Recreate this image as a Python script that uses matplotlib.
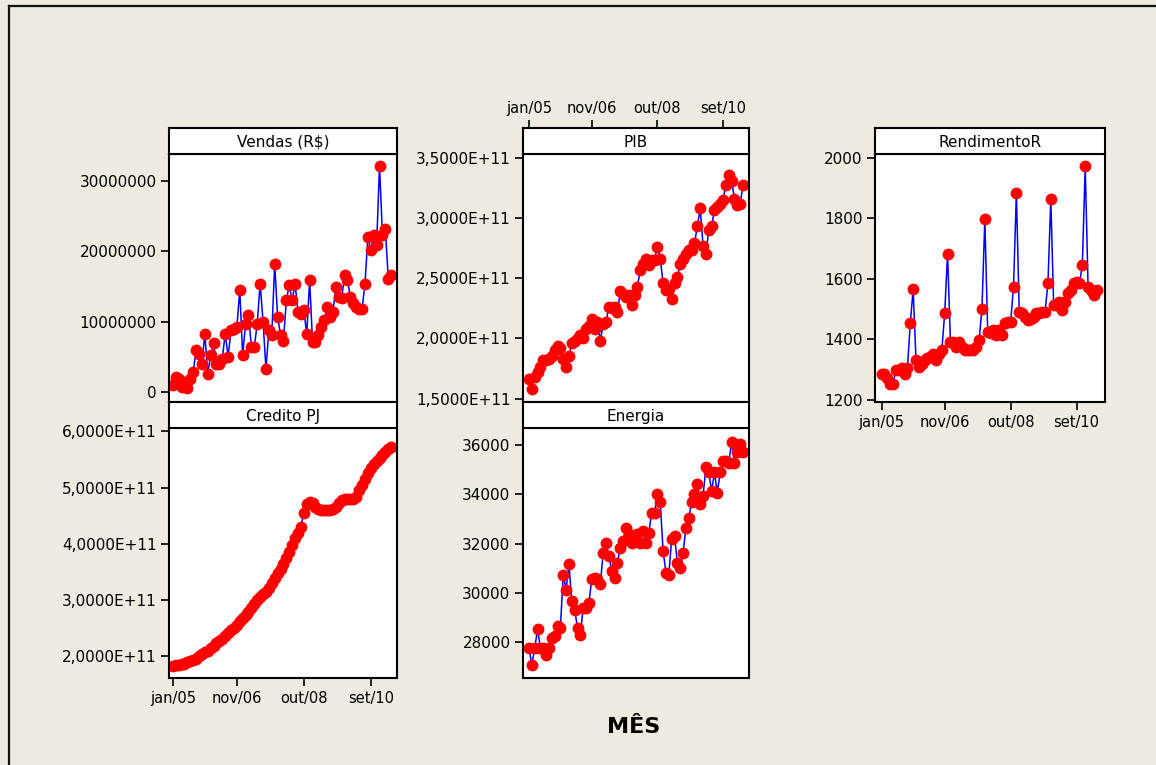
import numpy as np
import matplotlib
matplotlib.use('Agg')
import matplotlib.pyplot as plt
from matplotlib.lines import Line2D

# meses jan/05 .. abr/11 (indice da observacao)
meses = np.arange(76)
tick_pos = [0, 22, 45, 68]
tick_lab = ['jan/05', 'nov/06', 'out/08', 'set/10']

# Vendas (R$) em milhoes
vendas = np.array([
    1.0, 2.1, 1.9, 0.7, 1.2, 0.5, 1.9, 2.8, 5.9, 5.4,
    4.0, 8.3, 2.6, 5.2, 6.9, 4.0, 4.0, 4.7, 8.3, 5.0,
    8.8, 9.0, 9.2, 14.5, 5.2, 9.7, 10.9, 6.4, 6.4, 9.7,
    15.4, 10.0, 3.3, 8.8, 8.1, 18.2, 10.7, 8.1, 7.3, 13.0,
    15.2, 13.0, 15.4, 11.4, 11.1, 11.6, 8.3, 15.9, 7.1, 7.1,
    8.1, 9.2, 10.2, 12.1, 10.7, 11.4, 14.9, 13.5, 13.3, 16.6,
    15.9, 13.5, 12.6, 12.1, 11.8, 11.8, 15.4, 22.0, 20.1, 22.3,
    20.9, 32.1, 22.3, 23.2, 16.1, 16.6]) * 1e6

# Credito PJ em 1E+11
credito = np.array([
    1.83, 1.84, 1.85, 1.86, 1.87, 1.89, 1.91, 1.93, 1.96, 2.00,
    2.04, 2.07, 2.10, 2.14, 2.18, 2.23, 2.27, 2.31, 2.36, 2.41,
    2.47, 2.51, 2.56, 2.62, 2.68, 2.74, 2.79, 2.85, 2.93, 3.00,
    3.06, 3.10, 3.15, 3.22, 3.31, 3.40, 3.48, 3.56, 3.64, 3.74,
    3.86, 3.98, 4.10, 4.20, 4.30, 4.55, 4.70, 4.75, 4.72, 4.66,
    4.62, 4.60, 4.60, 4.60, 4.61, 4.62, 4.66, 4.72, 4.78, 4.80,
    4.80, 4.80, 4.80, 4.83, 4.95, 5.05, 5.15, 5.26, 5.35, 5.42,
    5.47, 5.52, 5.58, 5.63, 5.68, 5.72]) * 1e11

# PIB em 1E+11
pib = np.array([
    1.66, 1.58, 1.68, 1.72, 1.76, 1.82, 1.82, 1.83, 1.85, 1.90,
    1.94, 1.92, 1.83, 1.76, 1.85, 1.96, 1.98, 2.00, 2.03, 2.00,
    2.08, 2.10, 2.16, 2.08, 2.14, 1.98, 2.12, 2.14, 2.26, 2.25,
    2.26, 2.22, 2.39, 2.37, 2.34, 2.36, 2.28, 2.36, 2.43, 2.57,
    2.62, 2.66, 2.61, 2.65, 2.65, 2.76, 2.66, 2.46, 2.40, 2.41,
    2.33, 2.46, 2.51, 2.62, 2.66, 2.70, 2.73, 2.73, 2.79, 2.93,
    3.08, 2.77, 2.70, 2.90, 2.93, 3.07, 3.09, 3.12, 3.15, 3.27,
    3.36, 3.31, 3.16, 3.11, 3.12, 3.27]) * 1e11

energia = np.array([
    27770, 27090, 27770, 28520, 27770, 27770, 27500, 27770, 28180, 28240,
    28650, 28580, 30750, 30140, 31160, 29670, 29330, 28580, 28310, 29400,
    29400, 29600, 30550, 30620, 30550, 30350, 31630, 32040, 31500, 30890,
    30620, 31230, 31840, 32110, 32650, 32380, 32040, 32310, 32380, 32040,
    32520, 32040, 32450, 33260, 33260, 34010, 33670, 31700, 30820, 30750,
    32180, 32310, 31230, 31020, 31630, 32650, 33060, 33670, 34010, 34410,
    33600, 33940, 35090, 34890, 34140, 34890, 34070, 34890, 35360, 35360,
    35290, 36110, 35290, 35700, 36040, 35700])

rendimento = np.array([
    1286, 1286, 1270, 1253, 1253, 1297, 1297, 1303, 1286, 1303,
    1452, 1564, 1330, 1308, 1319, 1330, 1336, 1341, 1352, 1330,
    1352, 1363, 1485, 1683, 1391, 1391, 1374, 1391, 1374, 1363,
    1363, 1363, 1363, 1374, 1396, 1501, 1796, 1424, 1419, 1430,
    1413, 1430, 1413, 1452, 1457, 1457, 1573, 1882, 1490, 1485,
    1474, 1463, 1468, 1474, 1485, 1485, 1490, 1490, 1584, 1862,
    1512, 1512, 1523, 1496, 1523, 1551, 1562, 1584, 1590, 1584,
    1645, 1973, 1573, 1562, 1545, 1562])

vendas_ticks = [0, 10000000, 20000000, 30000000]
vendas_labels = ['0', '10000000', '20000000', '30000000']
credito_ticks = [2e11, 3e11, 4e11, 5e11, 6e11]
credito_labels = ['2,0000E+11', '3,0000E+11', '4,0000E+11', '5,0000E+11', '6,0000E+11']
pib_ticks = [1.5e11, 2.0e11, 2.5e11, 3.0e11, 3.5e11]
pib_labels = ['1,5000E+11', '2,0000E+11', '2,5000E+11', '3,0000E+11', '3,5000E+11']
energia_ticks = [28000, 30000, 32000, 34000, 36000]
energia_labels = ['28000', '30000', '32000', '34000', '36000']
rend_ticks = [1200, 1400, 1600, 1800, 2000]
rend_labels = ['1200', '1400', '1600', '1800', '2000']

W, H = 1156, 765
fundo = '#EEEAE0'
plt.rcParams['font.family'] = 'DejaVu Sans'

fig = plt.figure(figsize=(W / 100, H / 100), dpi=100, facecolor=fundo)


def caixa(x0, y0, w, h):
    # retangulo em pixels (origem no canto superior esquerdo)
    return [x0 / W, 1 - (y0 + h) / H, w / W, h / H]


def painel(x0, y0, w, h, titulo, y, xlim, ylim, yt, ylab, xbaixo=False, xtopo=False):
    ax = fig.add_axes(caixa(x0, y0, w, h))
    ax.plot(meses, y, '-o', color='#0000FF', lw=1.1, ms=7.5,
            mfc='#FF0000', mec='#FF0000')
    ax.set_xlim(xlim)
    ax.set_ylim(ylim)
    ax.set_yticks(yt)
    ax.set_yticklabels(ylab)
    ax.tick_params(axis='y', direction='out', length=6, width=1.2,
                   labelsize=11, pad=3)
    if xbaixo:
        ax.set_xticks(tick_pos)
        ax.set_xticklabels(tick_lab)
        ax.tick_params(axis='x', direction='out', length=6, width=1.2,
                       labelsize=10.5, pad=3)
    else:
        ax.set_xticks([])
    for s in ax.spines.values():
        s.set_linewidth(1.5)
    # faixa do titulo
    st = fig.add_axes(caixa(x0, y0 - 26, w, 26))
    st.set_facecolor('white')
    st.set_xlim(xlim)
    st.set_yticks([])
    for s in st.spines.values():
        s.set_linewidth(1.5)
    st.text(0.5, 0.45, titulo, transform=st.transAxes, ha='center',
            va='center', fontsize=11)
    if xtopo:
        st.set_xticks(tick_pos)
        st.set_xticklabels(tick_lab)
        st.tick_params(axis='x', direction='out', length=6, width=1.2,
                       labelsize=10.5, pad=3, top=True, labeltop=True,
                       bottom=False, labelbottom=False)
    else:
        st.set_xticks([])
    return ax


painel(169, 154, 228, 248, r'Vendas (R\$)', vendas, (-1.3, 77.0),
       (-1.42e6, 33.8e6), vendas_ticks, vendas_labels)
painel(169, 428, 228, 250, 'Credito PJ', credito, (-1.3, 77.0),
       (1.614e11, 6.06e11), credito_ticks, credito_labels, xbaixo=True)
painel(523, 154, 226, 248, 'PIB', pib, (-2.1, 77.1),
       (1.472e11, 3.531e11), pib_ticks, pib_labels, xtopo=True)
painel(523, 428, 226, 250, 'Energia', energia, (-2.1, 77.1),
       (26553, 36691), energia_ticks, energia_labels)
painel(875, 154, 230, 248, 'RendimentoR', rendimento, (-2.3, 77.9),
       (1192, 2012), rend_ticks, rend_labels, xbaixo=True)

fig.text(634 / W, 1 - 727 / H, 'MÊS', ha='center', va='center',
         fontsize=16, fontweight='bold')

# moldura escura no topo e a esquerda
fig.add_artist(Line2D([9 / W, 9 / W], [0, 1 - 6 / H], color='#111111', lw=1.6))
fig.add_artist(Line2D([9 / W, 1], [1 - 6 / H, 1 - 6 / H], color='#111111', lw=1.6))

fig.savefig('out.png', dpi=100, facecolor=fundo)
